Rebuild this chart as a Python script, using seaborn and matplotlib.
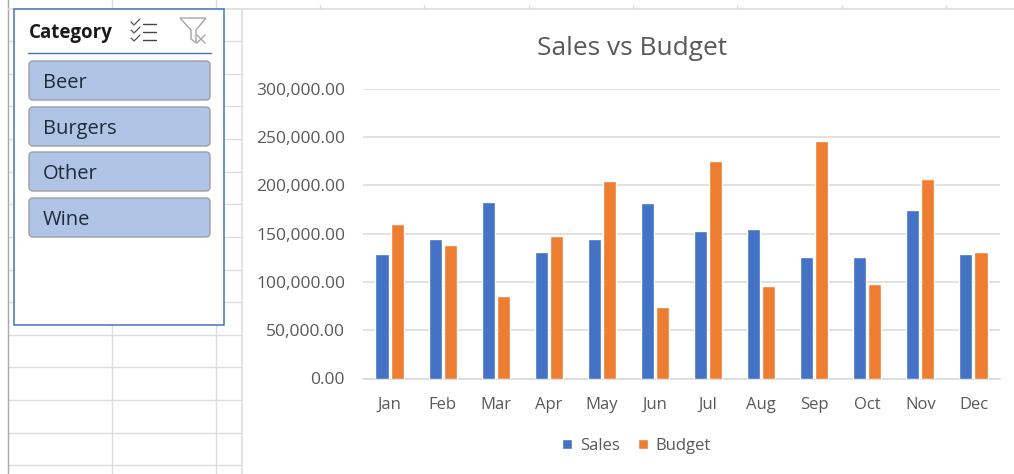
import matplotlib
matplotlib.use("Agg")
import matplotlib.pyplot as plt
from matplotlib.patches import FancyBboxPatch, Rectangle, Polygon
import pandas as pd
import seaborn as sns

months = ["Jan", "Feb", "Mar", "Apr", "May", "Jun", "Jul", "Aug", "Sep", "Oct", "Nov", "Dec"]
sales = [129000, 145000, 183000, 131000, 145000, 182000, 153000, 155000, 126000, 126000, 175000, 129000]
budget = [160000, 138000, 86000, 148000, 205000, 74000, 225000, 96000, 246000, 98000, 207000, 131000]
slicer_items = ["Beer", "Burgers", "Other", "Wine"]

sns.set_theme(style="white")
plt.rcParams["font.family"] = ["Open Sans", "DejaVu Sans"]

W, H = 1014, 474
TXT = "#595959"
GRID = "#D9D9D9"
SHEET = "#DDDDDD"

fig = plt.figure(figsize=(W / 100, H / 100), dpi=100)
bg = fig.add_axes([0, 0, 1, 1], zorder=0)
bg.set_xlim(0, W); bg.set_ylim(H, 0); bg.axis("off")

# worksheet grid behind the slicer and chart
for y in [41, 74, 106, 139, 172, 204, 237, 270, 302, 335, 367, 400, 433, 465]:
    bg.plot([8, 242], [y, y], color=SHEET, lw=1.0)
for x in [112, 216]:
    bg.plot([x, x], [0, H], color=SHEET, lw=1.0)
bg.plot([242, 242], [9, H], color=SHEET, lw=1.2)
bg.plot([8, 8], [0, H], color="#A8A8A8", lw=1.0)
bg.plot([8, W], [9, 9], color=SHEET, lw=1.2)
for x in [320, 424, 529, 633, 737, 842, 946]:
    bg.plot([x, x], [5, 9], color=SHEET, lw=1.0)

# slicer panel
bg.add_patch(Rectangle((14, 9), 210, 316, fc="white", ec="#4472C4", lw=1.1, zorder=3))
bg.text(29, 33, "Category", fontsize=13.5, fontweight="bold", color="#1A1A1A", va="center", ha="left", zorder=4)
bg.plot([28, 211], [53, 53], color="#4472C4", lw=1.0, zorder=4)
for (top, item) in zip([61, 107, 152, 198], slicer_items):
    bg.add_patch(FancyBboxPatch((30, top + 1), 179, 37, boxstyle="round,pad=1,rounding_size=4",
                                fc="#B0C4E6", ec="#A0A0A0", lw=1.0, zorder=4))
    bg.text(43, top + 22, item, fontsize=14.5, color="#1F2A3A", va="center", ha="left", zorder=5)

# multi-select icon
for y in [24, 32, 40]:
    bg.plot([143, 156], [y, y], color="#444444", lw=1.0, zorder=5)
    bg.plot([131, 134, 140], [y - 2, y + 1, y - 5], color="#555555", lw=0.9, zorder=5)
# clear-filter icon
bg.add_patch(Polygon([(180, 18), (206, 18), (196, 30), (196, 43), (191, 39), (191, 30)],
                     closed=True, fc="white", ec="#A6A6A6", lw=1.0, zorder=5))
bg.plot([197, 205], [35, 43], color="#A6A6A6", lw=1.0, zorder=6)
bg.plot([205, 197], [35, 43], color="#A6A6A6", lw=1.0, zorder=6)

# chart
df = pd.DataFrame({
    "Month": months * 2,
    "Value": sales + budget,
    "Series": ["Sales"] * len(months) + ["Budget"] * len(months),
})
ax = fig.add_axes([363 / W, 1 - 378.5 / H, 637 / W, 289.5 / H], zorder=2)
ax.patch.set_alpha(0)
sns.barplot(data=df, x="Month", y="Value", hue="Series", order=months,
            palette={"Sales": "#4472C4", "Budget": "#ED7D31"},
            width=0.566, gap=0.13, saturation=1, errorbar=None, ax=ax, zorder=3)
ax.set_ylim(0, 300000)
ax.set_xlim(-0.5, 11.5)
ax.set_yticks(range(0, 300001, 50000))
ax.set_yticklabels([f"{v:,.2f}" for v in range(0, 300001, 50000)])
ax.yaxis.grid(True, color=GRID, lw=1.1)
ax.set_axisbelow(True)
ax.set_xlabel(""); ax.set_ylabel("")
ax.tick_params(axis="y", length=0, pad=13, labelsize=12.5, labelcolor=TXT)
ax.tick_params(axis="x", length=0, pad=13, labelsize=12, labelcolor=TXT)
for s in ["top", "left", "right"]:
    ax.spines[s].set_visible(False)
ax.spines["bottom"].set_color(GRID)
ax.spines["bottom"].set_linewidth(1.1)

handles, labels = ax.get_legend_handles_labels()
ax.legend(handles, labels, loc="center", bbox_to_anchor=(636.5 / W, 1 - 446 / H),
          bbox_transform=fig.transFigure, ncol=2, frameon=False, fontsize=12,
          labelcolor=TXT, handlelength=0.6, handleheight=0.6, handletextpad=0.45, columnspacing=1.1)

fig.text(632.5 / W, 1 - 55 / H, "Sales vs Budget", fontsize=18.9, color=TXT, ha="center", va="baseline", zorder=5)

fig.savefig("out.png", dpi=100, facecolor="white")
